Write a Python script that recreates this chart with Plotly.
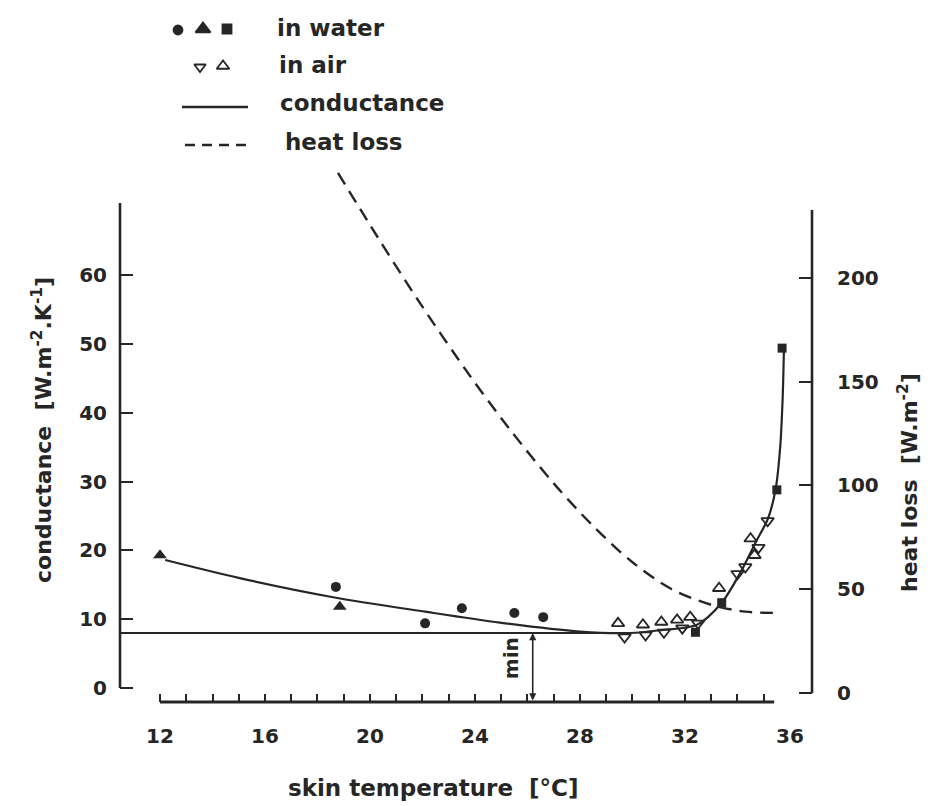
import plotly.graph_objects as go

# ---------------- data ----------------
# in water, filled symbols
water_circle_t = [18.7, 22.1, 23.5, 25.5, 26.6]
water_circle_c = [14.7, 9.4, 11.6, 10.9, 10.3]
water_tri_t = [12.0, 18.85]
water_tri_c = [19.3, 11.8]
water_sq_t = [32.4, 33.4, 35.5, 35.7]
water_sq_c = [8.1, 12.4, 28.8, 49.4]
# in air, open symbols
air_up_t = [29.45, 30.4, 31.1, 31.7, 32.2, 33.3, 34.5, 34.65]
air_up_c = [9.4, 9.2, 9.6, 9.9, 10.3, 14.5, 21.7, 19.3]
air_dn_t = [29.7, 30.5, 31.2, 31.9, 32.5, 34.0, 34.3, 34.8, 35.15]
air_dn_c = [7.4, 7.7, 8.1, 8.7, 9.4, 16.6, 17.6, 20.4, 24.3]
# conductance curve (solid)
cond_t = [12.2, 15.0, 18.6, 22.1, 24.95, 28.0, 29.9, 31.05, 32.46, 33.4, 34.1, 34.74, 35.16, 35.45, 35.62, 35.72, 35.77]
cond_c = [18.6, 16.0, 13.2, 11.1, 9.5, 8.2, 8.0, 8.4, 9.2, 12.4, 16.7, 21.5, 24.6, 28.8, 34.6, 41.9, 49.1]
# heat loss curve (dashed, right axis)
hl_t = [18.78, 20.3, 21.9, 23.8, 25.3, 27.0, 28.5, 30.0, 31.5, 33.0, 34.3, 35.35]
hl_v = [250.6, 219.5, 188.0, 153.0, 127.5, 101.0, 80.5, 63.0, 50.0, 42.5, 39.2, 38.6]
# minimum conductance reference line
min_t = [10.5, 29.9]
min_c = [8.0, 8.0]
min_arrow_t = 26.2

x_ticks = [12, 16, 20, 24, 28, 32, 36]
x_minor = list(range(12, 36))
y_ticks = [0, 10, 20, 30, 40, 50, 60]
y2_ticks = [0, 50, 100, 150, 200]

INK = "#262626"
FONT = "DejaVu Sans"

X_RANGE = [10.476, 36.84]
Y_RANGE = [-2.03, 76.02]
Y2_RANGE = [-4.34, 254.46]
YDOM_TOP = 0.765

fig = go.Figure()

# curves
fig.add_trace(go.Scatter(x=cond_t, y=cond_c, mode="lines", line=dict(color=INK, width=2.2, shape="spline", smoothing=0.8),
                         xaxis="x", yaxis="y", showlegend=False, hoverinfo="skip"))
fig.add_trace(go.Scatter(x=hl_t, y=hl_v, mode="lines", line=dict(color=INK, width=2.4, dash="13px,8px", shape="spline", smoothing=0.9),
                         xaxis="x", yaxis="y2", showlegend=False, hoverinfo="skip"))
fig.add_trace(go.Scatter(x=min_t, y=min_c, mode="lines", line=dict(color=INK, width=2),
                         xaxis="x2", yaxis="y", showlegend=False, hoverinfo="skip"))

# markers
fig.add_trace(go.Scatter(x=water_circle_t, y=water_circle_c, mode="markers",
                         marker=dict(symbol="circle", size=10, color=INK), showlegend=False))
fig.add_trace(go.Scatter(x=water_tri_t, y=water_tri_c, mode="markers",
                         marker=dict(symbol="triangle-up", size=12, color=INK), showlegend=False))
fig.add_trace(go.Scatter(x=water_sq_t, y=water_sq_c, mode="markers",
                         marker=dict(symbol="square", size=9, color=INK), showlegend=False))
fig.add_trace(go.Scatter(x=air_up_t, y=air_up_c, mode="markers",
                         marker=dict(symbol="triangle-up-open", size=11, color=INK, line=dict(width=1.8)), showlegend=False))
fig.add_trace(go.Scatter(x=air_dn_t, y=air_dn_c, mode="markers",
                         marker=dict(symbol="triangle-down-open", size=11, color=INK, line=dict(width=1.8)), showlegend=False))

# ---------------- custom legend (helper axes in pixel units) ----------------
leg_marks = [
    (178, 30, "circle", 9), (203, 29, "triangle-up", 13), (227, 29, "square", 9),
    (200, 67, "triangle-down-open", 10), (223, 66, "triangle-up-open", 11),
]
for lx, ly, sym, sz in leg_marks:
    fig.add_trace(go.Scatter(x=[lx], y=[ly], mode="markers", xaxis="x3", yaxis="y3",
                             marker=dict(symbol=sym, size=sz, color=INK, line=dict(width=1.8, color=INK)),
                             showlegend=False, hoverinfo="skip"))
fig.add_trace(go.Scatter(x=[182, 248], y=[107, 107], mode="lines", xaxis="x3", yaxis="y3",
                         line=dict(color=INK, width=2.6), showlegend=False, hoverinfo="skip"))
fig.add_trace(go.Scatter(x=[185, 248], y=[145, 145], mode="lines", xaxis="x3", yaxis="y3",
                         line=dict(color=INK, width=2.6, dash="10px,7px"), showlegend=False, hoverinfo="skip"))
leg_texts = [("in water", 275, 28), ("in air", 277, 65), ("conductance", 278, 103), ("heat loss", 283, 142)]

annotations = []
for txt, lx, ly in leg_texts:
    annotations.append(dict(text=txt, x=lx, y=ly, xref="x3", yref="y3", xanchor="left", yanchor="middle",
                            showarrow=False, font=dict(family=FONT, size=23, color=INK, weight="bold")))

# axis titles
annotations.append(dict(text="conductance  [W.m<sup>-2</sup>.K<sup>-1</sup>]", x=-0.1127, y=0.3875, xref="paper", yref="paper",
                        xanchor="center", yanchor="middle",
                        textangle=-90, showarrow=False, font=dict(family=FONT, size=22, color=INK, weight="bold")))
annotations.append(dict(text="heat loss  [W.m<sup>-2</sup>]", x=1.1387, y=0.3134, xref="paper", yref="paper",
                        xanchor="center", yanchor="middle",
                        textangle=-90, showarrow=False, font=dict(family=FONT, size=22, color=INK, weight="bold")))
annotations.append(dict(text="skin temperature  [°C]", x=0.4523, y=-0.1225, xref="paper", yref="paper",
                        xanchor="center", yanchor="middle",
                        showarrow=False, font=dict(family=FONT, size=23, color=INK, weight="bold")))
# min marker
annotations.append(dict(text="", x=min_arrow_t, y=min_c[0], ax=min_arrow_t, ay=Y_RANGE[0], xref="x", yref="y",
                        axref="x", ayref="y", showarrow=True, arrowside="end+start", arrowhead=2, startarrowhead=2,
                        arrowsize=0.9, startarrowsize=0.9, arrowwidth=1.6, arrowcolor=INK, standoff=0, startstandoff=0))
annotations.append(dict(text="min", x=min_arrow_t - 0.8, y=4.3, xref="x", yref="y", textangle=-90, showarrow=False,
                        xanchor="center", yanchor="middle",
                        font=dict(family=FONT, size=20, color=INK, weight="bold")))

# axis lines (drawn as shapes to mimic the detached axes)
shapes = [
    dict(type="line", xref="paper", yref="y", x0=0, x1=0, y0=0, y1=70.5, line=dict(color=INK, width=2.6)),
    dict(type="line", xref="paper", yref="y2", x0=1, x1=1, y0=0, y1=232.8, line=dict(color=INK, width=2.6)),
    dict(type="line", xref="x", yref="paper", x0=12, x1=35.4, y0=0, y1=0, line=dict(color=INK, width=2.8)),
]

tickfont = dict(family=FONT, size=20, color=INK, weight="bold")

fig.update_layout(
    width=948, height=806,
    margin=dict(l=120, r=136, t=0, b=104, pad=0),
    paper_bgcolor="white", plot_bgcolor="rgba(0,0,0,0)",
    showlegend=False,
    xaxis=dict(domain=[0, 1], range=X_RANGE, anchor="y", tickmode="array", tickvals=x_ticks,
               ticks="", showline=False, showgrid=False, zeroline=False, tickfont=tickfont,
               ticklabelstandoff=20),
    xaxis2=dict(overlaying="x", anchor="y", range=X_RANGE, tickmode="array", tickvals=x_minor,
                ticks="inside", ticklen=8, tickwidth=1.6, tickcolor=INK, showticklabels=False,
                showline=False, showgrid=False, zeroline=False),
    yaxis=dict(domain=[0, YDOM_TOP], range=Y_RANGE, anchor="x", tickmode="array", tickvals=y_ticks,
               ticks="inside", ticklen=13, tickwidth=2, tickcolor=INK, showline=False, showgrid=False,
               zeroline=False, tickfont=tickfont, ticklabelstandoff=12),
    yaxis2=dict(overlaying="y", side="right", anchor="x", range=Y2_RANGE, tickmode="array", tickvals=y2_ticks,
                ticks="inside", ticklen=13, tickwidth=2, tickcolor=INK, showline=False, showgrid=False,
                zeroline=False, tickfont=tickfont, ticklabelstandoff=24),
    xaxis3=dict(domain=[0, 1], range=[120, 812], anchor="y3", visible=False, fixedrange=True),
    yaxis3=dict(domain=[0.78, 1], range=[154.44, 0], anchor="x3", visible=False, fixedrange=True),
    annotations=annotations,
    shapes=shapes,
)

fig.write_html("out.html")
